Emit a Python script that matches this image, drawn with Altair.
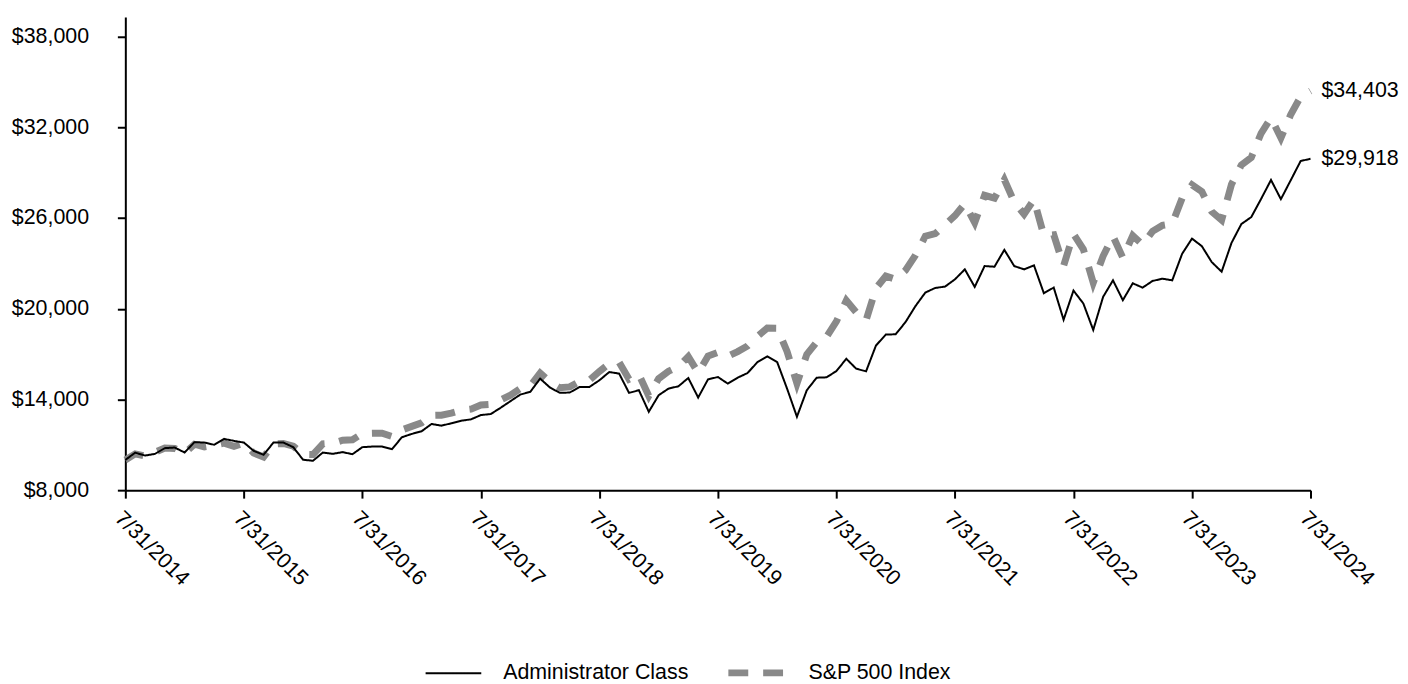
import altair as alt
import pandas as pd

# month index 0 = 7/31/2014 ... 120 = 7/31/2024
months = list(range(121))

admin = [
    10000, 10480, 10290, 10400, 10780, 10820, 10490, 11175, 11150, 11000,
    11390, 11260, 11150, 10600, 10340, 11150, 11150, 10845, 10010, 9945,
    10490, 10405, 10516, 10380, 10845, 10884, 10884, 10711, 11500, 11720,
    11896, 12377, 12267, 12420, 12595, 12683, 12968, 13034, 13450, 13888,
    14326, 14501, 15377, 14786, 14436, 14458, 14830, 14830, 15268, 15813,
    15708, 14434, 14609, 13185, 14280, 14718, 14871, 15418, 14127, 15330,
    15484, 15046, 15440, 15747, 16470, 16842, 16470, 14718, 12856, 14609,
    15440, 15462, 15878, 16690, 16034, 15859, 17565, 18289, 18311, 19122,
    20174, 21069, 21375, 21463, 21945, 22603, 21441, 22822, 22778, 23895,
    22822, 22603, 22866, 21026, 21398, 19273, 21200, 20345, 18595, 20783,
    21878, 20564, 21681, 21396, 21834, 21987, 21878, 23630, 24638, 24134,
    23083, 22448, 24353, 25601, 26061, 27266, 28515, 27244, 28500, 29767,
    29918,
]

sp500 = [
    10000, 10400, 10254, 10505, 10787, 10760, 10437, 11038, 10863, 10968,
    11109, 10894, 11122, 10452, 10193, 11054, 11087, 10912, 10371, 10357,
    11059, 11102, 11302, 11332, 11750, 11766, 11769, 11554, 11982, 12219,
    12451, 12946, 12961, 13095, 13279, 13362, 13637, 13679, 13961, 14286,
    14725, 14888, 15742, 15161, 14776, 14832, 15189, 15284, 15852, 16369,
    16462, 15336, 15649, 14236, 15377, 15870, 16178, 16833, 15764, 16876,
    17119, 16848, 17163, 17536, 18172, 18721, 18714, 17174, 15053, 16982,
    17791, 18145, 19168, 20546, 19766, 19240, 21347, 22166, 21943, 22548,
    23536, 24793, 24966, 25548, 26156, 26951, 25698, 27499, 27309, 28533,
    27058, 26249, 27222, 24848, 24893, 22839, 24945, 23928, 21724, 23483,
    24796, 23368, 24835, 24229, 25119, 25510, 25620, 27314, 28190, 27742,
    26419, 25864, 28226, 29507, 30003, 31605, 32623, 31292, 32844, 34023,
    34403,
]

series_names = ["Administrator Class", "S&P 500 Index"]
tick_labels = ["7/31/2014", "7/31/2015", "7/31/2016", "7/31/2017", "7/31/2018",
               "7/31/2019", "7/31/2020", "7/31/2021", "7/31/2022", "7/31/2023",
               "7/31/2024"]
y_ticks = [8000, 14000, 20000, 26000, 32000, 38000]

FONT = "Liberation Sans"
FS = 21.5

df = pd.DataFrame({
    "m": months + months,
    "v": admin + sp500,
    "s": [series_names[0]] * len(admin) + [series_names[1]] * len(sp500),
})
end_df = pd.DataFrame({
    "m": [months[-1], months[-1]],
    "v": [admin[-1], sp500[-1]],
    "label": [f"${admin[-1]:,}", f"${sp500[-1]:,}"],
})

label_expr = "[" + ",".join(f"'{t}'" for t in tick_labels) + "][round(datum.value/12)]"

x_enc = alt.X(
    "m:Q",
    scale=alt.Scale(domain=[0, 120], nice=False, zero=False),
    axis=alt.Axis(values=list(range(0, 121, 12)), labelExpr=label_expr,
                  labelAngle=45, labelAlign="left", labelBaseline="top",
                  labelPadding=9, tickSize=8, title=None, grid=False,
                  labelFont=FONT, labelFontSize=FS, labelColor="#000000",
                  domainColor="#000000", tickColor="#000000",
                  domainWidth=2, tickWidth=2, labelOverlap=False),
)
y_enc = alt.Y(
    "v:Q",
    scale=alt.Scale(domain=[8000, 39300], nice=False, zero=False),
    axis=alt.Axis(values=y_ticks, format="$,.0f", tickSize=8, labelPadding=29,
                  title=None, grid=False,
                  labelFont=FONT, labelFontSize=FS, labelColor="#000000",
                  domainColor="#000000", tickColor="#000000",
                  domainWidth=2, tickWidth=2, labelOverlap=False),
)
color_enc = alt.Color(
    "s:N",
    scale=alt.Scale(domain=series_names, range=["#000000", "#898989"]),
    legend=alt.Legend(orient="none", legendX=301, legendY=628, direction="horizontal",
                      title=None, symbolType="stroke", symbolSize=3136,
                      labelFontSize=FS, labelFont=FONT, labelColor="#000000",
                      labelOffset=21, columnPadding=25, labelLimit=0, padding=0),
)
dash_enc = alt.StrokeDash(
    "s:N", scale=alt.Scale(domain=series_names, range=[[1, 0], [20, 15]]))
width_enc = alt.StrokeWidth(
    "s:N", scale=alt.Scale(domain=series_names, range=[2, 7]))

sp_layer = alt.Chart(df).transform_filter(
    alt.datum.s == series_names[1]
).mark_line(strokeCap="butt").encode(
    x=x_enc, y=y_enc, color=color_enc, strokeDash=dash_enc, strokeWidth=width_enc)

admin_layer = alt.Chart(df).transform_filter(
    alt.datum.s == series_names[0]
).mark_line(strokeCap="butt").encode(
    x=x_enc, y=y_enc, color=color_enc, strokeDash=dash_enc, strokeWidth=width_enc)

labels = alt.Chart(end_df).mark_text(
    align="left", baseline="middle", dx=11, fontSize=FS, font=FONT, color="#000000"
).encode(x="m:Q", y="v:Q", text="label:N")

chart = alt.layer(sp_layer, admin_layer, labels).properties(
    width=1192, height=476,
    background="#ffffff",
    autosize=alt.AutoSizeParams(type="none"),
    padding={"left": 118, "top": 7, "right": 90, "bottom": 193},
).configure_view(stroke=None)

chart.save("out.html", embed_options={"renderer": "svg", "actions": False})
